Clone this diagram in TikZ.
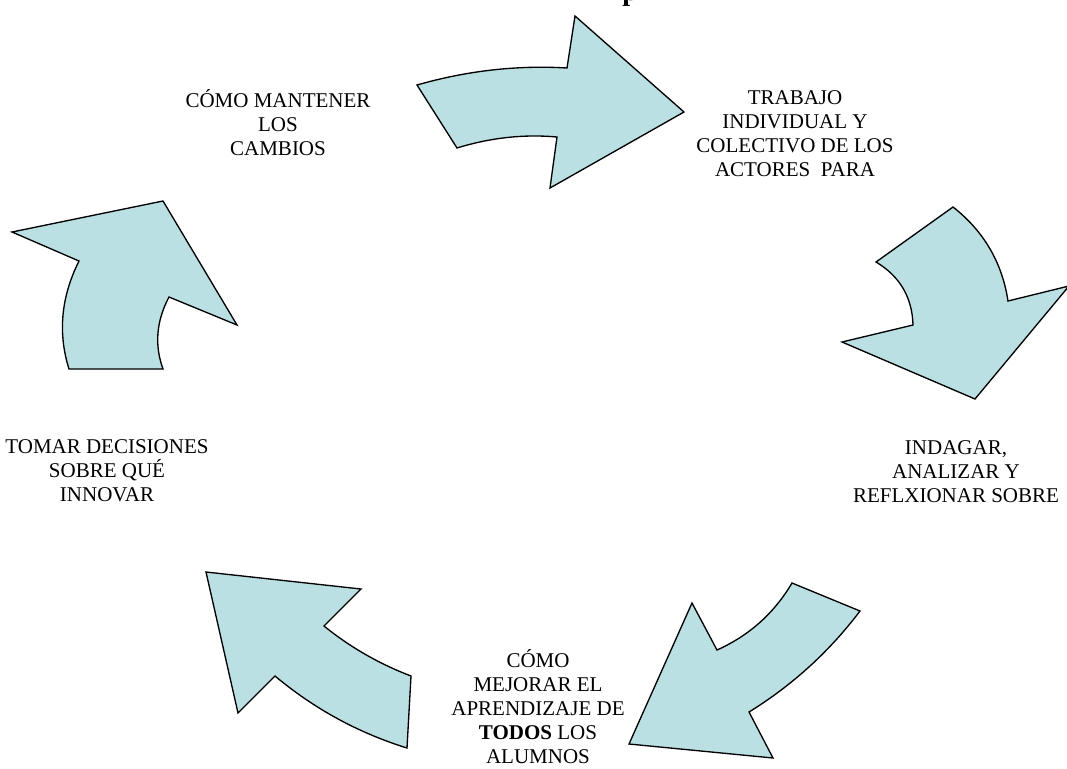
\documentclass[tikz,border=0pt]{standalone}
\usepackage{fontspec}
\setmainfont{Liberation Serif}
\definecolor{arrowfill}{RGB}{187,224,227}

\begin{document}
\begin{tikzpicture}
            [x=0.75pt,y=-0.75pt,every node/.style={align=center,inner sep=0,font=\fontsize{15.75}{18}\selectfont}, bigarrow/.style={draw=black,fill=arrowfill,line width=1pt,line join=miter}]

            \useasboundingbox (0,0) rectangle (1067,768);

            % title, only its lower edge shows
            \node[anchor=base west,font=\fontsize{21}{24}\selectfont\bfseries] (titulo) at (622,0) {p};

            % arrows, clockwise from the top
            \draw[bigarrow] (417,85) -- (457,148) .. controls (490.3,137.7) and (523.7,134) .. (557,137) -- (550,188) -- (684,112) -- (575,16) -- (567,68) .. controls (517,65) and (467,70.7) .. (417,85) -- cycle;
            \draw[bigarrow] (953,207) -- (876,262) .. controls (899.9,276.3) and (912.2,297.3) .. (913,325) -- (842,342) -- (975,399) -- (1069,286) -- (1008,301) .. controls (1002.1,262.4) and (983.7,231.1) .. (953,207) -- cycle;
            \draw[bigarrow] (792,583) -- (860,611) .. controls (829.3,651.6) and (792.3,685.3) .. (749,712) -- (773,758) -- (629,744) -- (692,603) -- (717,650) .. controls (749.1,635.6) and (774.1,613.3) .. (792,583) -- cycle;
            \draw[bigarrow] (411,676) -- (407,748) .. controls (358.2,732.8) and (314.2,708.8) .. (275,676) -- (238,713) -- (206,572) -- (361,589) -- (324,626) .. controls (350.3,647.3) and (379.3,663.9) .. (411,676) -- cycle;
            \draw[bigarrow] (163,369) -- (69,369) .. controls (57.7,333) and (61,297) .. (79,261) -- (12,232) -- (163,201) -- (237,325) -- (169,297) .. controls (156.3,321) and (154.3,345) .. (163,369) -- cycle;

            % labels
            \node (mantener) at (278,123) {CÓMO MANTENER\\LOS\\CAMBIOS};
            \node (trabajo) at (795,134) {TRABAJO\\INDIVIDUAL Y\\COLECTIVO DE LOS\\ACTORES\ \ PARA};
            \node (indagar) at (956,472) {INDAGAR,\\ANALIZAR Y\\REFLXIONAR SOBRE};
            \node (mejorar) at (538,707) {CÓMO\\MEJORAR EL\\APRENDIZAJE DE\\\textbf{TODOS} LOS\\ALUMNOS};
            \node (decidir) at (107,471) {TOMAR DECISIONES\\SOBRE QUÉ\\INNOVAR};
          \end{tikzpicture}
\end{document}
